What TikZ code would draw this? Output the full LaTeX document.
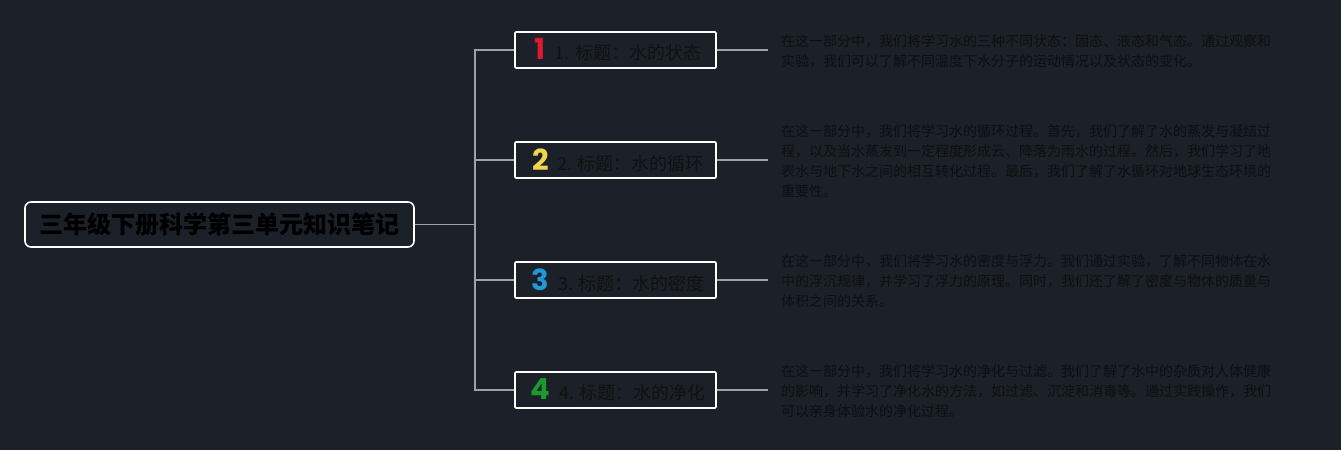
\documentclass[tikz,border=0pt]{standalone}
\usepackage{fontspec}
\usepackage{tikz}
\usepackage{color}
\newfontfamily\cjk{Noto Sans CJK SC}
\newfontfamily\numfont{Poppins}
\definecolor{bg}{HTML}{1B2029}
\definecolor{linegray}{HTML}{9EA2A7}
\definecolor{darktext}{HTML}{111111}
\definecolor{notetext}{HTML}{0E0F11}
\definecolor{numred}{HTML}{E0192E}
\definecolor{numyellow}{HTML}{F3D54A}
\definecolor{numblue}{HTML}{1E98D8}
\definecolor{numgreen}{HTML}{1B9A2D}
\newcommand{\badge}[2]{\hspace{5pt}{\numfont\bfseries\fontsize{29}{29}\selectfont\textcolor{#1}{#2}}\hspace{9pt}}

\begin{document}
\begin{tikzpicture}[%
      x=1pt, y=-1pt,
      rootbox/.style={draw=white, line width=1.6pt, rounded corners=6pt,
        minimum width=389pt, minimum height=45pt, inner sep=0pt,
        font=\cjk\bfseries\fontsize{24}{28}\selectfont, text=black},
      topicbox/.style={draw=white, line width=1.6pt, rounded corners=1pt,
        minimum width=201pt, minimum height=36pt, inner sep=0pt,
        font=\cjk\fontsize{18}{20}\selectfont, text=darktext},
      note/.style={anchor=west, align=left, inner sep=0pt,
        font=\cjk\fontsize{14}{20}\selectfont, text=notetext},
      link/.style={draw=linegray, line width=1.2pt},
      ]
      \useasboundingbox[fill=bg] (0,0) rectangle (1341,450);

      % root and branches
      \node [rootbox] (root) at (219.5,224.5) {三年级下册科学第三单元知识笔记};
      \coordinate (joint) at (475,224.5);

      \node [topicbox] (t1) at (615.5,50) {\badge{numred}{1}1. 标题：水的状态};
      \node [topicbox] (t2) at (615.5,160) {\badge{numyellow}{2}2. 标题：水的循环};
      \node [topicbox] (t3) at (615.5,280) {\badge{numblue}{3}3. 标题：水的密度};
      \node [topicbox] (t4) at (615.5,390) {\badge{numgreen}{4}4. 标题：水的净化};

      % notes
      \node [note] (n1) at (781,51) {在这一部分中，我们将学习水的三种不同状态：固态、液态和气态。通过观察和\\
        实验，我们可以了解不同温度下水分子的运动情况以及状态的变化。};
      \node [note] (n2) at (781,161) {在这一部分中，我们将学习水的循环过程。首先，我们了解了水的蒸发与凝结过\\
        程，以及当水蒸发到一定程度形成云、降落为雨水的过程。然后，我们学习了地\\
        表水与地下水之间的相互转化过程。最后，我们了解了水循环对地球生态环境的\\
        重要性。};
      \node [note] (n3) at (781,281) {在这一部分中，我们将学习水的密度与浮力。我们通过实验，了解不同物体在水\\
        中的浮沉规律，并学习了浮力的原理。同时，我们还了解了密度与物体的质量与\\
        体积之间的关系。};
      \node [note] (n4) at (781,391) {在这一部分中，我们将学习水的净化与过滤。我们了解了水中的杂质对人体健康\\
        的影响，并学习了净化水的方法，如过滤、沉淀和消毒等。通过实践操作，我们\\
        可以亲身体验水的净化过程。};

      % connectors
      \draw [link] (root.east) -- (joint);
      \draw [link] (joint) |- (t1.west);
      \draw [link] (joint) |- (t2.west);
      \draw [link] (joint) |- (t3.west);
      \draw [link] (joint) |- (t4.west);

      \draw [link] (t1.east) -- ([xshift=-13pt]n1.west |- t1.east);
      \draw [link] (t2.east) -- ([xshift=-13pt]n2.west |- t2.east);
      \draw [link] (t3.east) -- ([xshift=-13pt]n3.west |- t3.east);
      \draw [link] (t4.east) -- ([xshift=-13pt]n4.west |- t4.east);
      \end{tikzpicture}
\end{document}
